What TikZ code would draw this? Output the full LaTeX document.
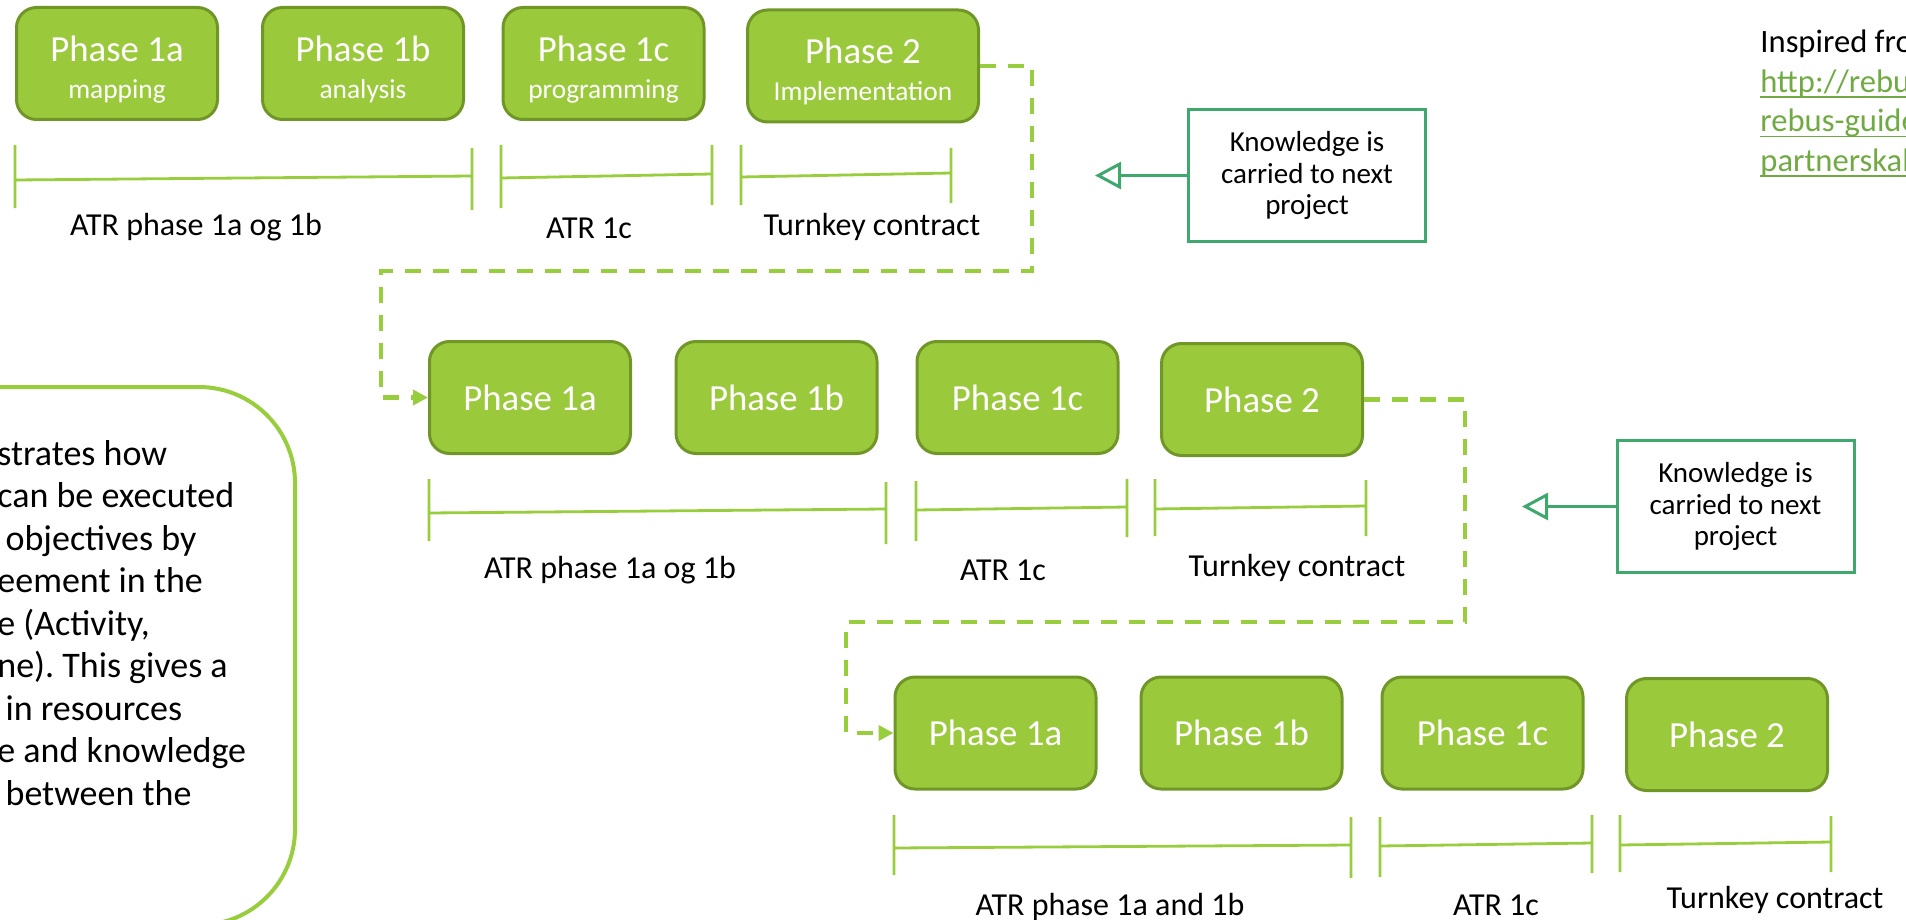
\documentclass[tikz,border=0pt]{standalone}
\usepackage{fontspec}
\setmainfont{Carlito}
\usepackage{tikz}
\usetikzlibrary{arrows.meta}

\definecolor{phasefill}{RGB}{154,202,60}
\definecolor{phaseedge}{RGB}{113,150,40}
\definecolor{spangreen}{RGB}{152,205,62}
\definecolor{notegreen}{RGB}{63,168,108}
\definecolor{linkgreen}{RGB}{112,170,66}

\frenchspacing
\newcommand{\subline}[1]{{\fontsize{13.7}{18.5}\selectfont #1}}
\newcommand{\twoline}[2]{\rule{0pt}{18.4pt}#1\\\subline{#2}}
\newcommand{\weblink}[1]{{\color{linkgreen}\setbox0\hbox{#1}\rlap{\rule[-2.6pt]{\wd0}{0.8pt}}\box0}}

\begin{document}
\begin{tikzpicture}[x=0.5pt,y=-0.5pt,
		phase/.style={draw=phaseedge,fill=phasefill,line width=1.5pt,rounded corners=10pt,
			minimum width=100.5pt,minimum height=56pt,inner sep=0pt,text=white,align=center,
			font={\fontsize{18.4}{18.5}\selectfont}},
		span/.style={draw=spangreen,line width=1.4pt},
		spanlabel/.style={inner sep=0pt,font={\fontsize{16}{19}\selectfont}},
		flow/.style={draw=spangreen,line width=2.3pt,dash pattern=on 8pt off 6pt,
			-{Triangle[length=7.5pt,width=7.5pt]}},
		note/.style={draw=notegreen,line width=1.5pt,minimum width=118.5pt,minimum height=66pt,
			inner sep=0pt,align=center,font={\fontsize{14.5}{15.8}\selectfont}},
		carry/.style={draw=notegreen,line width=1.5pt,-{Triangle[open,length=13pt,width=13.5pt]}},
		infobox/.style={draw=spangreen,line width=2pt,rounded corners=48pt}]
		\useasboundingbox (0,0) rectangle (1906,920);
		\clip (0,0) rectangle (1906,920);

		% project 1
		\draw (117,63.5) node[phase] (r1p1a) {\twoline{Phase 1a}{mapping}};
		\draw (363,63.5) node[phase] (r1p1b) {\twoline{Phase 1b}{analysis}};
		\draw (603.5,63.5) node[phase] (r1p1c) {\twoline{Phase 1c}{programming}};
		\draw (863,66) node[phase,minimum width=115.5pt] (r1p2) {\twoline{Phase 2}{Implementation}};

		\draw[span] (15,145) -- (15,208) (15,180) -- (472,176) (472,148) -- (472,210);
		\draw[span] (501,145) -- (501,208) (501,178) -- (712,174) (712,145) -- (712,205);
		\draw[span] (741,145) -- (741,205) (741,177) -- (951,173) (951,148) -- (951,203);

		\draw (196,227) node[spanlabel] (r1atrab) {ATR phase 1a og 1b};
		\draw (589,228) node[spanlabel] (r1atrc) {ATR 1c};
		\draw (872,227) node[spanlabel] (r1turn) {Turnkey contract};

		% project 2
		\draw (530,397.5) node[phase] (r2p1a) {Phase 1a};
		\draw (776.5,397.5) node[phase] (r2p1b) {Phase 1b};
		\draw (1017.5,397.5) node[phase] (r2p1c) {Phase 1c};
		\draw (1262,399.5) node[phase] (r2p2) {Phase 2};

		\draw[span] (429,479) -- (429,541) (429,513) -- (886,509) (886,482) -- (886,544);
		\draw[span] (916,481) -- (916,541) (916,510) -- (1127,507) (1127,479) -- (1127,537);
		\draw[span] (1155,479) -- (1155,536) (1155,509) -- (1366,506) (1366,480) -- (1366,536);

		\draw (610,570) node[spanlabel] (r2atrab) {ATR phase 1a og 1b};
		\draw (1003,570) node[spanlabel] (r2atrc) {ATR 1c};
		\draw (1297,568) node[spanlabel] (r2turn) {Turnkey contract};

		% project 3
		\draw (995.5,733) node[phase] (r3p1a) {Phase 1a};
		\draw (1241.5,733) node[phase] (r3p1b) {Phase 1b};
		\draw (1482.5,733) node[phase] (r3p1c) {Phase 1c};
		\draw (1727,734.5) node[phase] (r3p2) {Phase 2};

		\draw[span] (894,815) -- (894,875) (894,848) -- (1351,845) (1351,817) -- (1351,878);
		\draw[span] (1380,817) -- (1380,877) (1380,846) -- (1592,843) (1592,815) -- (1592,873);
		\draw[span] (1620,815) -- (1620,872) (1620,845) -- (1831,842) (1831,816) -- (1831,872);

		\draw (1110,907) node[spanlabel] (r3atrab) {ATR phase 1a and 1b};
		\draw (1496,905) node[spanlabel] (r3atrc) {ATR 1c};
		\draw (1775,900) node[spanlabel] (r3turn) {Turnkey contract};

		% knowledge carried on
		\coordinate (t1) at (1032,271);
		\coordinate (t2) at (381,271);
		\coordinate (t3) at (1465,622);
		\coordinate (t4) at (846,622);
		\draw[flow] (r1p2.east) -| (t1) -- (t2) |- (r2p1a.west);
		\draw[flow] (r2p2.east) -| (t3) -- (t4) |- (r3p1a.west);

		\draw (1307,175.5) node[note] (kb1) {Knowledge is\\carried to next\\project};
		\draw (1735.5,506.5) node[note] (kb2) {Knowledge is\\carried to next\\project};
		\coordinate (k1tip) at (1095,175.5);
		\coordinate (k2tip) at (1522,506.5);
		\draw[carry] (kb1) -- (k1tip);
		\draw[carry] (kb2) -- (k2tip);

		% side notes
		\draw[infobox] (-300,387) rectangle (295,925);
		\draw (-3,465) node[anchor=base west,inner sep=0pt,
			font={\fontsize{18}{21.25}\selectfont}] (info)
			{\begin{tabular}[t]{@{}l@{}} strates how \\ can be executed \\ \hspace*{4.1pt}objectives by \\ eement in the \\ e (Activity, \\ ne). This gives a \\ \hspace*{4.1pt}in resources \\ e and knowledge \\ \hspace*{4.1pt}between the \end{tabular}};
		\draw (1760,53) node[anchor=base west,inner sep=0pt,
			font={\fontsize{16.3}{19.75}\selectfont}] (source)
			{\begin{tabular}[t]{@{}l@{}} Inspired fro \\ \weblink{http://rebu} \\ \weblink{rebus-guide} \\ \weblink{partnerskab} \end{tabular}};
\end{tikzpicture}
\end{document}
